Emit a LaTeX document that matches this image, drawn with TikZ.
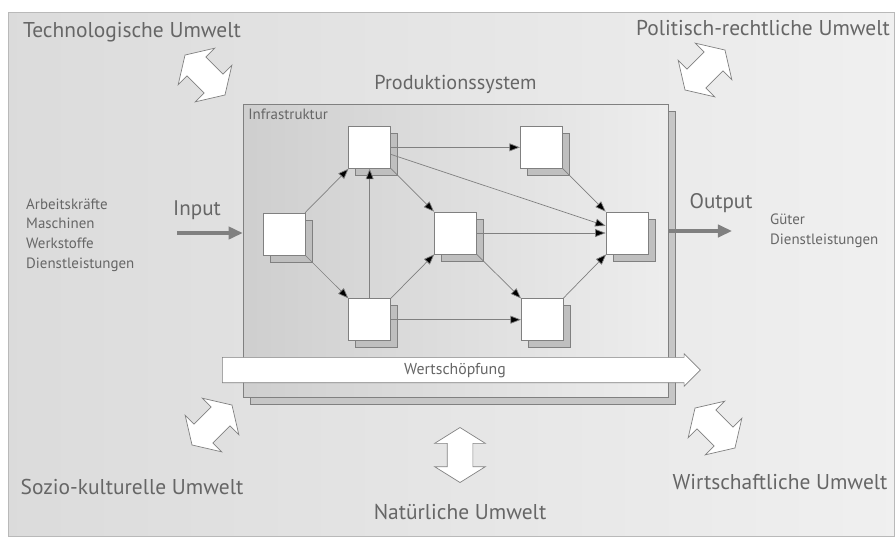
\documentclass[tikz,border=0pt]{standalone}
\usepackage{fontspec}
\setmainfont{PT Sans}
\usetikzlibrary{positioning,arrows.meta,shapes.arrows,shadows}
\definecolor{txtgray}{gray}{0.4}
\definecolor{linegray}{gray}{0.5}

\begin{document}
\begin{tikzpicture}[x=0.02cm, y=-0.02cm,
    every node/.style={text=txtgray},
    cube/.style={draw=linegray, fill=white, minimum size=0.84cm, inner sep=0pt,
        general shadow={fill=gray!50, draw=linegray, shadow xshift=4pt, shadow yshift=-4pt}},
    flow/.style={-{Triangle[length=6pt,width=4.5pt]}, draw=linegray, thin},
    bigflow/.style={-{Triangle[length=8pt,width=7pt]}, draw=linegray, line width=1.8pt},
    umwelt/.style={font=\fontsize{12.2}{14}\selectfont},
    small/.style={font=\fontsize{8.5}{11.2}\selectfont},
    twoway/.style={double arrow, draw=linegray, fill=white, minimum height=1.13cm,
        minimum width=0.9cm, inner sep=0.26cm, double arrow tip angle=116}]
    \useasboundingbox (0,0) rectangle (896,539);
    \fill[left color=gray!28, right color=gray!12] (8,12) rectangle (894,536);
    \draw[gray!55] (8,12) rectangle (894,536);

    % Produktionssystem
    \node[draw=linegray, minimum width=8.5cm, minimum height=5.86cm,
        left color=gray!38, right color=gray!14,
        general shadow={fill=gray!45, draw=linegray, shadow xshift=4pt, shadow yshift=-4pt}]
        (prod) at (455.5,250.5) {};
    \node[above=0.08cm of prod, font=\fontsize{11.5}{13}\selectfont] (prodlabel) {Produktionssystem};
    \node[anchor=north west, small, inner sep=3pt] (infra) at (prod.north west) {Infrastruktur};

    \node[cube] (A) at (284,234) {};
    \node[cube] (B) [above right=0.88cm and 0.86cm of A] {};
    \node[cube] (C) [below right=0.86cm and 0.86cm of A] {};
    \node[cube] (D) [below right=0.86cm and 0.86cm of B] {};
    \node[cube] (E) [right=2.58cm of B] {};
    \node[cube] (F) [right=2.6cm of C] {};
    \node[cube] (G) [below right=0.86cm and 0.86cm of E] {};
    \path[flow] (A) edge (B)
            (A) edge (C)
            (C) edge (B)
            (B) edge (D)
            (C) edge (D)
            (B) edge (E)
            (B) edge (G)
            (D) edge (G)
            (E) edge (G)
            (C) edge (F)
            (D) edge (F)
            (F) edge (G);

    \node[single arrow, draw=linegray, fill=white, anchor=west, minimum height=9.56cm,
        minimum width=0.62cm, single arrow head extend=2pt, inner ysep=2.5pt,
        text height=7pt, text depth=2pt, font=\fontsize{9}{10}\selectfont]
        (wert) at (222,370) {Wertschöpfung};

    % Input / Output
    \coordinate (inp) at (177,233);
    \coordinate (outp) at (732,231);
    \draw[bigflow] (inp) -- (inp -| prod.west);
    \draw[bigflow] (prod.east |- outp) -- (outp);
    \node[font=\fontsize{12}{14}\selectfont] (inlabel) at (197,210) {Input};
    \node[font=\fontsize{12}{14}\selectfont] (outlabel) at (721,203) {Output};
    \node[anchor=west, align=left, small] (faktoren) at (20,235)
        {Arbeitskräfte\\Maschinen\\Werkstoffe\\Dienstleistungen};
    \node[anchor=west, align=left, small] (produkte) at (764,231)
        {Güter\\Dienstleistungen};

    % Umwelten
    \node[umwelt] (tech) at (132,32) {Technologische Umwelt};
    \node[umwelt] (polit) at (763,28) {Politisch-rechtliche Umwelt};
    \node[umwelt] (sozio) at (132,487) {Sozio-kulturelle Umwelt};
    \node[umwelt] (wirt) at (780,482) {Wirtschaftliche Umwelt};
    \node[umwelt] (natur) at (460,512) {Natürliche Umwelt};
    \node[twoway, rotate=-45] (techpfeil) at (205,75) {};
    \node[twoway, rotate=45] (politpfeil) at (705,70) {};
    \node[twoway, rotate=45] (soziopfeil) at (212,425) {};
    \node[twoway, rotate=-45] (wirtpfeil) at (715,428) {};
    \node[twoway, rotate=90, minimum height=1.1cm, inner sep=0.25cm] (naturpfeil) at (460,455) {};
\end{tikzpicture}
\end{document}
